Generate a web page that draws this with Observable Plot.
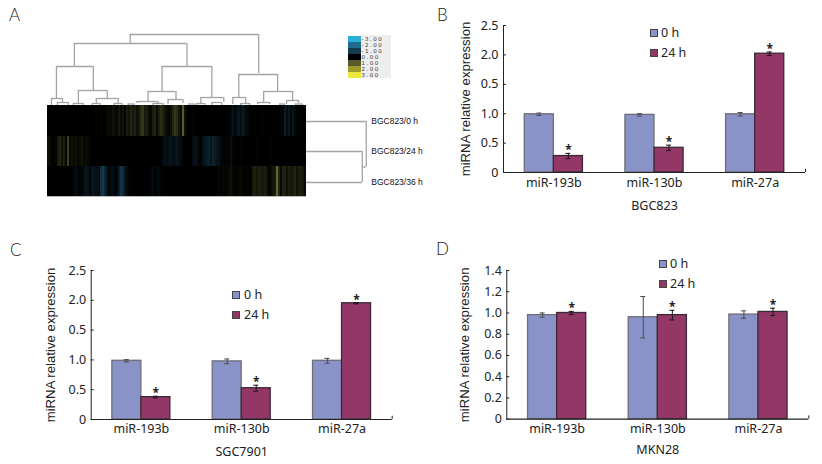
<!DOCTYPE html>
<html>
<head>
<meta charset="utf-8">
<script src="https://cdn.jsdelivr.net/npm/d3@7"></script>
<script src="https://cdn.jsdelivr.net/npm/@observablehq/plot@0.6"></script>
<style>
  html, body { margin: 0; background: #fff; }
  #page { position: relative; width: 822px; height: 464px; overflow: hidden; font-family: "Noto Sans", sans-serif; color: #222; }
  #page > svg, #page > figure { position: absolute; margin: 0; }
  .letter { position: absolute; font: 300 17px Lato, sans-serif; line-height: 20px; }
  .swatch { position: absolute; width: 6px; height: 6px; border: 1px solid #444; }
  .key { position: absolute; font-size: 12.5px; line-height: 14px; }
  #heatKeyBg { position: absolute; left: 361px; top: 35px; width: 30px; height: 43px; background: #eee; }
</style>
</head>
<body>
<div id="page"><div id="heatKeyBg"></div></div>
<script>
// panneaux B, C, D
const categories = ["miR-193b", "miR-130b", "miR-27a"];
const seriesNames = ["0 h", "24 h"];
const seriesFill = ["#8a93c8", "#923766"];
const seriesStroke = ["#6e6e78", "#3a2a38"];
const errorStroke = ["#4a4a50", "#1e1418"];

const bgcZero = [0.99, 0.98, 0.99];
const bgcLate = [0.28, 0.42, 2.02];
const bgcZeroErr = [0.02, 0.02, 0.03];
const bgcLateErr = [0.045, 0.045, 0.03];

const sgcZero = [0.985, 0.975, 0.985];
const sgcLate = [0.375, 0.525, 1.95];
const sgcZeroErr = [0.02, 0.04, 0.04];
const sgcLateErr = [0.015, 0.05, 0.01];

const mknZero = [0.98, 0.96, 0.985];
const mknLate = [1.0, 0.98, 1.01];
const mknZeroErr = [0.02, 0.195, 0.035];
const mknLateErr = [0.015, 0.045, 0.035];

// the printed axis really says 0.5 where 1.5 should be
const wideTicks = [0, 0.5, 1, 1.5, 2, 2.5];
const wideTickLabels = ["0", "0.5", "1.0", "0.5", "2.0", "2.5"];
const mknTicks = [0, 0.2, 0.4, 0.6, 0.8, 1, 1.2, 1.4];
const mknTickLabels = ["0", "0.2", "0.4", "0.6", "0.8", "1.0", "1.2", "1.4"];

// panneau A : heatmap, 130 colonnes
const heatRowTop = [
  0, 0, 0, 0, 0, 0, 0, 0, 0, 0,
  0, 0, 0, 0, 0, 0, 0, 0, 0, 0,
  0, 0, 0, 0, 0.03, 0, 0, 0.03, 0, 0.03,
  0.08, 0.12, 0.08, 0.2, 0.12, 0.08, 0.25, 0.12, 0.2, 0.08,
  0.3, 0.2, 0.4, 0.25, 0.35, 0.17, 0.25, 0.5, 0.6, 0.3,
  0.35, 0.12, 0.08, 0.3, 0.4, 0.12, 0.35, 0.5, 0.4, 0.2,
  0.12, 0.08, 0.17, 0.4, 0.6, 0.5, 0.25, 0.12, 1, 0.2,
  0.03, 0, 0, 0.03, 0, 0, 0, 0, 0, 0,
  0, 0, 0, 0, 0, 0, 0, 0, 0, 0,
  -0.03, 0, -0.17, -0.35, -0.12, -0.3, -0.4, -0.2, -0.5, -0.25,
  -0.17, -0.03, 0, 0, -0.03, 0, 0, 0, -0.03, 0,
  0, 0, 0, 0, 0, -0.03, 0, -0.08, -0.12, -0.5,
  -0.2, -0.4, -0.12, -0.35, -0.17, -0.03, -0.08, -0.03, 0, 0
];
const heatRowMiddle = [
  0.17, 0.12, 0, 0.03, 0.03, 0.3, 0.4, 0.2, 0.35, 0.03,
  0.7, 0.08, 0.17, 0.12, 0.17, 0.08, 0.12, 0.2, 0.08, 0.12,
  0.08, 0.03, 0, 0, 0, 0, 0, 0, 0, 0,
  0, 0, 0, 0, 0, 0, 0, 0, 0, 0,
  0, 0, 0, 0, 0, 0, 0, 0, 0, 0,
  0, 0, 0, 0, 0, 0, 0, 0, -0.17, -0.3,
  -0.2, -0.3, -0.35, -0.2, -0.3, -0.4, -0.25, -0.17, -0.03, 0,
  0, 0, 0, -0.2, -0.35, -0.25, -0.08, -0.03, -0.3, -0.4,
  -0.5, -0.6, -0.4, -0.6, -0.5, -0.35, -0.3, -0.12, -0.08, -0.03,
  -0.08, -0.03, 0.17, 0.03, 0, 0, 0, 0.03, 0, 0,
  0, 0, 0, 0, 0, 0.03, 0, 0, 0, 0,
  0, 0, 0.03, 0, 0, 0, 0, 0, 0, 0,
  0, 0, 0, 0, 0, 0, 0, 0, 0, 0
];
const heatRowBottom = [
  0, 0, 0, 0, 0, 0, 0, 0, 0, 0,
  0, 0, 0, -0.17, -0.2, -0.12, -0.03, -0.08, -0.25, -0.35,
  -0.3, -0.12, -0.35, -0.4, -0.25, -0.3, -0.2, -0.8, -1, -0.7,
  -0.35, -0.08, -0.2, -0.25, -0.08, -0.12, -0.5, -0.9, -0.8, -0.4,
  -0.2, -0.03, 0, 0, 0, 0, 0, 0, 0, 0,
  0, 0, -0.12, -0.17, -0.03, -0.12, -0.17, -0.03, 0, 0,
  0, 0, 0, 0, 0, 0, 0, 0, 0, 0,
  0, 0, 0, 0, 0, 0, 0, 0, 0, 0,
  0, 0, 0, 0, 0, 0.03, 0.08, 0.03, 0.08, 0.03,
  0.03, 0.12, 0.17, 0.08, 0.03, 0.03, 0.08, 0.12, 0.03, 0.03,
  0.03, 0.03, 0.03, 0.3, 0.35, 0.25, 0.35, 0.3, 0.25, 0.35,
  0.2, 0.03, 0.12, 0.25, 0.3, 1.2, 0.4, 0.08, 0.4, 0.35,
  0.2, 0.35, 0.25, 0.3, 0.4, 0.2, 0.3, 0.35, 0.25, 0.12
];
const heatRows = [heatRowTop, heatRowMiddle, heatRowBottom];
const rowNames = ["BGC823/0 h", "BGC823/24 h", "BGC823/36 h"];
const rowEdges = [0, -31, -61.5, -91];
const rowCenters = [-16, -46, -77];

const heatKeyValues = [-3, -2, -1, 0, 1, 2, 3];
const heatKeyLabels = ["-3.00", "-2.00", "-1.00", "0.00", "1.00", "2.00", "3.00"];
const heatKeyColors = ["#2ab0d8", "#1f6c8c", "#143a4c", "#000000", "#565a2c", "#9c9c2c", "#eee83c"];

// [col gauche, col droite, base gauche, base droite, hauteur]
const columnMerges = [
  [41.5, 106, 62, 32, 71], [13.5, 70, 39, 39, 62], [96, 115.5, 8, 14, 31],
  [4.5, 23, 7, 15, 39], [57.5, 82.5, 14, 8, 39], [2, 7.5, 0, 3, 7],
  [15.5, 30, 2, 7, 15], [24.5, 35.5, 2, 2, 7], [50.5, 64.5, 4, 6, 14],
  [45, 55.5, 2, 2, 4], [60.5, 68, 1, 2, 6], [77, 88.5, 2, 3, 8],
  [93, 99.5, 1, 2, 8], [108.5, 123, 3, 5, 14], [105.5, 111.5, 1, 1, 3],
  [120, 126, 1, 2, 5], [5, 10.5, 0, 0, 3], [13, 18, 0, 0, 2],
  [22.5, 26.5, 0, 0, 2], [33.5, 37.5, 0, 0, 2], [40.5, 43.5, 0, 0, 1.5],
  [53, 58, 0, 0, 2], [71, 74, 0, 0, 1.5], [75, 79, 0, 0, 2],
  [82.5, 87.5, 0, 0, 3], [97, 101.5, 0, 0, 2], [116.5, 119, 0, 0, 1.5],
  [124.5, 128, 0, 0, 1.5]
];
// [ligne haute, ligne basse, base haute, base basse, hauteur]
const rowMerges = [
  [-46, -77, 130, 130, 158],
  [-16, -61.5, 130, 158, 160]
];

const page = document.getElementById("page");

function place(node, left, top) {
  node.style.left = left + "px";
  node.style.top = top + "px";
  page.appendChild(node);
}

function addLetter(text, left, top) {
  const el = document.createElement("div");
  el.className = "letter";
  el.textContent = text;
  place(el, left, top);
}

function addBarKey(left, topZero, topLate, textLeft) {
  [topZero, topLate].forEach((top, s) => {
    const sw = document.createElement("div");
    sw.className = "swatch";
    sw.style.background = seriesFill[s];
    place(sw, left, top);
    const key = document.createElement("div");
    key.className = "key";
    key.textContent = seriesNames[s];
    place(key, textLeft, top - 3.5);
  });
}

function barPanel(opts) {
  const rows = s => categories.map((gene, i) => ({
    i,
    left: i + 0.5 + (s - 1) * 0.289,
    right: i + 0.5 + s * 0.289,
    mid: i + 0.5 + (s - 0.5) * 0.289,
    value: opts.values[s][i],
    err: opts.errors[s][i]
  }));
  const marks = [];
  seriesNames.forEach((name, s) => {
    const data = rows(s);
    marks.push(
      Plot.rectY(data, {x1: "left", x2: "right", y: "value", fill: seriesFill[s], stroke: seriesStroke[s], strokeWidth: 1.3}),
      Plot.ruleX(data, {x: "mid", y1: d => d.value - d.err, y2: d => d.value + d.err, stroke: errorStroke[s], strokeWidth: 1}),
      Plot.ruleY(data, {x1: d => d.mid - 0.025, x2: d => d.mid + 0.025, y: d => d.value - d.err, stroke: errorStroke[s], strokeWidth: 1}),
      Plot.ruleY(data, {x1: d => d.mid - 0.025, x2: d => d.mid + 0.025, y: d => d.value + d.err, stroke: errorStroke[s], strokeWidth: 1})
    );
  });
  marks.push(
    Plot.text(rows(1), {x: "mid", y: d => d.value + d.err, text: () => "*", dy: -3, fontSize: 12, fontWeight: "bold", fill: "#222"}),
    Plot.ruleX([0], {stroke: "#222", strokeWidth: 1}),
    Plot.ruleY([0], {stroke: "#222", strokeWidth: 1.2}),
    Plot.ruleX([3], {y1: 0, y2: opts.yMax * 0.022, stroke: "#222"}),
    Plot.axisY({
      ticks: opts.ticks,
      tickFormat: d => opts.tickLabels[opts.ticks.indexOf(d)],
      tickSize: -3,
      tickPadding: 8,
      stroke: "#222",
      fontSize: 12.5,
      label: null
    }),
    Plot.text(["miRNA relative expression"], {
      frameAnchor: "left",
      textAnchor: "middle",
      rotate: -90,
      dx: -opts.labelOffsetY,
      fontFamily: '"Liberation Sans", sans-serif',
      fontSize: 13.2,
      fill: "#222"
    }),
    Plot.axisX({
      ticks: [0.5, 1.5, 2.5],
      tickFormat: d => categories[d - 0.5],
      tickSize: 0,
      tickPadding: opts.tickPaddingX,
      fontSize: 12.5,
      label: opts.xLabel,
      labelAnchor: "center",
      labelArrow: "none",
      labelOffset: opts.labelOffsetX
    })
  );
  const svg = Plot.plot({
    width: opts.width,
    height: opts.height,
    marginLeft: opts.marginLeft,
    marginRight: opts.marginRight,
    marginTop: opts.marginTop,
    marginBottom: opts.marginBottom,
    style: {fontFamily: '"Noto Sans", sans-serif', fontSize: "12.5px", color: "#222", overflow: "visible"},
    x: {domain: [0, 3], label: null},
    y: {domain: [0, opts.yMax], label: null},
    marks
  });
  place(svg, opts.left, opts.top);
}

function heatPanel() {
  const cells = heatRows.flatMap((row, r) => row.map((value, c) => ({
    c, value, top: rowEdges[r], bottom: rowEdges[r + 1]
  })));
  const lineStyle = {stroke: "#a4a4a4", strokeWidth: 1.3};
  const svg = Plot.plot({
    width: 420,
    height: 215,
    style: {fontFamily: '"Liberation Sans", sans-serif', color: "#222", overflow: "visible"},
    x: {domain: [0, 130], range: [47, 306], axis: null},
    y: {domain: [-91, 71], range: [196, 34], axis: null},
    color: {type: "linear", domain: heatKeyValues, range: heatKeyColors},
    marks: [
      Plot.rect(cells, {x1: "c", x2: d => d.c + 1, y1: "bottom", y2: "top", fill: "value", inset: -0.3, shapeRendering: "crispEdges"}),
      Plot.ruleY([-91], {x1: 0, x2: 130, stroke: "#bbb"}),
      Plot.ruleY(columnMerges, {x1: d => d[0], x2: d => d[1], y: d => d[4], ...lineStyle}),
      Plot.ruleX(columnMerges, {x: d => d[0], y1: d => d[2], y2: d => d[4], ...lineStyle}),
      Plot.ruleX(columnMerges, {x: d => d[1], y1: d => d[3], y2: d => d[4], ...lineStyle}),
      Plot.ruleX(rowMerges, {x: d => d[4], y1: d => d[0], y2: d => d[1], ...lineStyle}),
      Plot.ruleY(rowMerges, {x1: d => d[2], x2: d => d[4], y: d => d[0], ...lineStyle}),
      Plot.ruleY(rowMerges, {x1: d => d[3], x2: d => d[4], y: d => d[1], ...lineStyle}),
      Plot.text(rowNames, {
        x: () => 162.5,
        y: (d, i) => rowCenters[i],
        text: d => d,
        textAnchor: "start",
        fontSize: 8.5,
        fill: "#111"
      })
    ]
  });
  place(svg, 0, 0);
  // l'original est flou, on adoucit les colonnes
  svg.querySelector('[aria-label="rect"]').style.filter = "blur(0.5px)";
}

function heatKey() {
  const svg = Plot.plot({
    width: 44,
    height: 43,
    marginTop: 0,
    marginBottom: 0,
    marginLeft: 0,
    marginRight: 31,
    style: {background: "transparent", fontFamily: '"DejaVu Sans", sans-serif', color: "#333", overflow: "visible"},
    y: {type: "band", domain: heatKeyValues, padding: 0, axis: null},
    color: {type: "linear", domain: heatKeyValues, range: heatKeyColors},
    marks: [
      Plot.cell(heatKeyValues, {y: d => d, fill: d => d}),
      Plot.axisY({
        anchor: "right",
        tickSize: 0,
        tickPadding: 0,
        fontSize: 5.5,
        tickFormat: d => heatKeyLabels[heatKeyValues.indexOf(d)],
        label: null
      })
    ]
  });
  place(svg, 348, 35);
  svg.querySelectorAll('[aria-label="y-axis tick label"] text').forEach(t => {
    t.style.letterSpacing = "1.5px";
  });
}

heatPanel();
heatKey();

barPanel({
  left: 420, top: 0, width: 402, height: 215,
  marginLeft: 83, marginRight: 17, marginTop: 25, marginBottom: 43,
  values: [bgcZero, bgcLate], errors: [bgcZeroErr, bgcLateErr],
  yMax: 2.5, ticks: wideTicks, tickLabels: wideTickLabels,
  xLabel: "BGC823", labelOffsetY: 38, labelOffsetX: 37, tickPaddingX: 6
});
barPanel({
  left: 0, top: 230, width: 420, height: 234,
  marginLeft: 90.7, marginRight: 28.3, marginTop: 40, marginBottom: 45,
  values: [sgcZero, sgcLate], errors: [sgcZeroErr, sgcLateErr],
  yMax: 2.5, ticks: wideTicks, tickLabels: wideTickLabels,
  xLabel: "SGC7901", labelOffsetY: 40.7, labelOffsetX: 36, tickPaddingX: 4.5
});
barPanel({
  left: 420, top: 230, width: 402, height: 234,
  marginLeft: 86.3, marginRight: 13.7, marginTop: 40, marginBottom: 45.3,
  values: [mknZero, mknLate], errors: [mknZeroErr, mknLateErr],
  yMax: 1.4, ticks: mknTicks, tickLabels: mknTickLabels,
  xLabel: "MKN28", labelOffsetY: 42.3, labelOffsetX: 35, tickPaddingX: 4.5
});

addBarKey(650, 29, 49, 661);
addBarKey(232, 291, 311, 244);
addBarKey(659, 260, 280, 670);

addLetter("A", 9, 5);
addLetter("B", 437, 5);
addLetter("C", 10, 240);
addLetter("D", 436, 239);
</script>
</body>
</html>
